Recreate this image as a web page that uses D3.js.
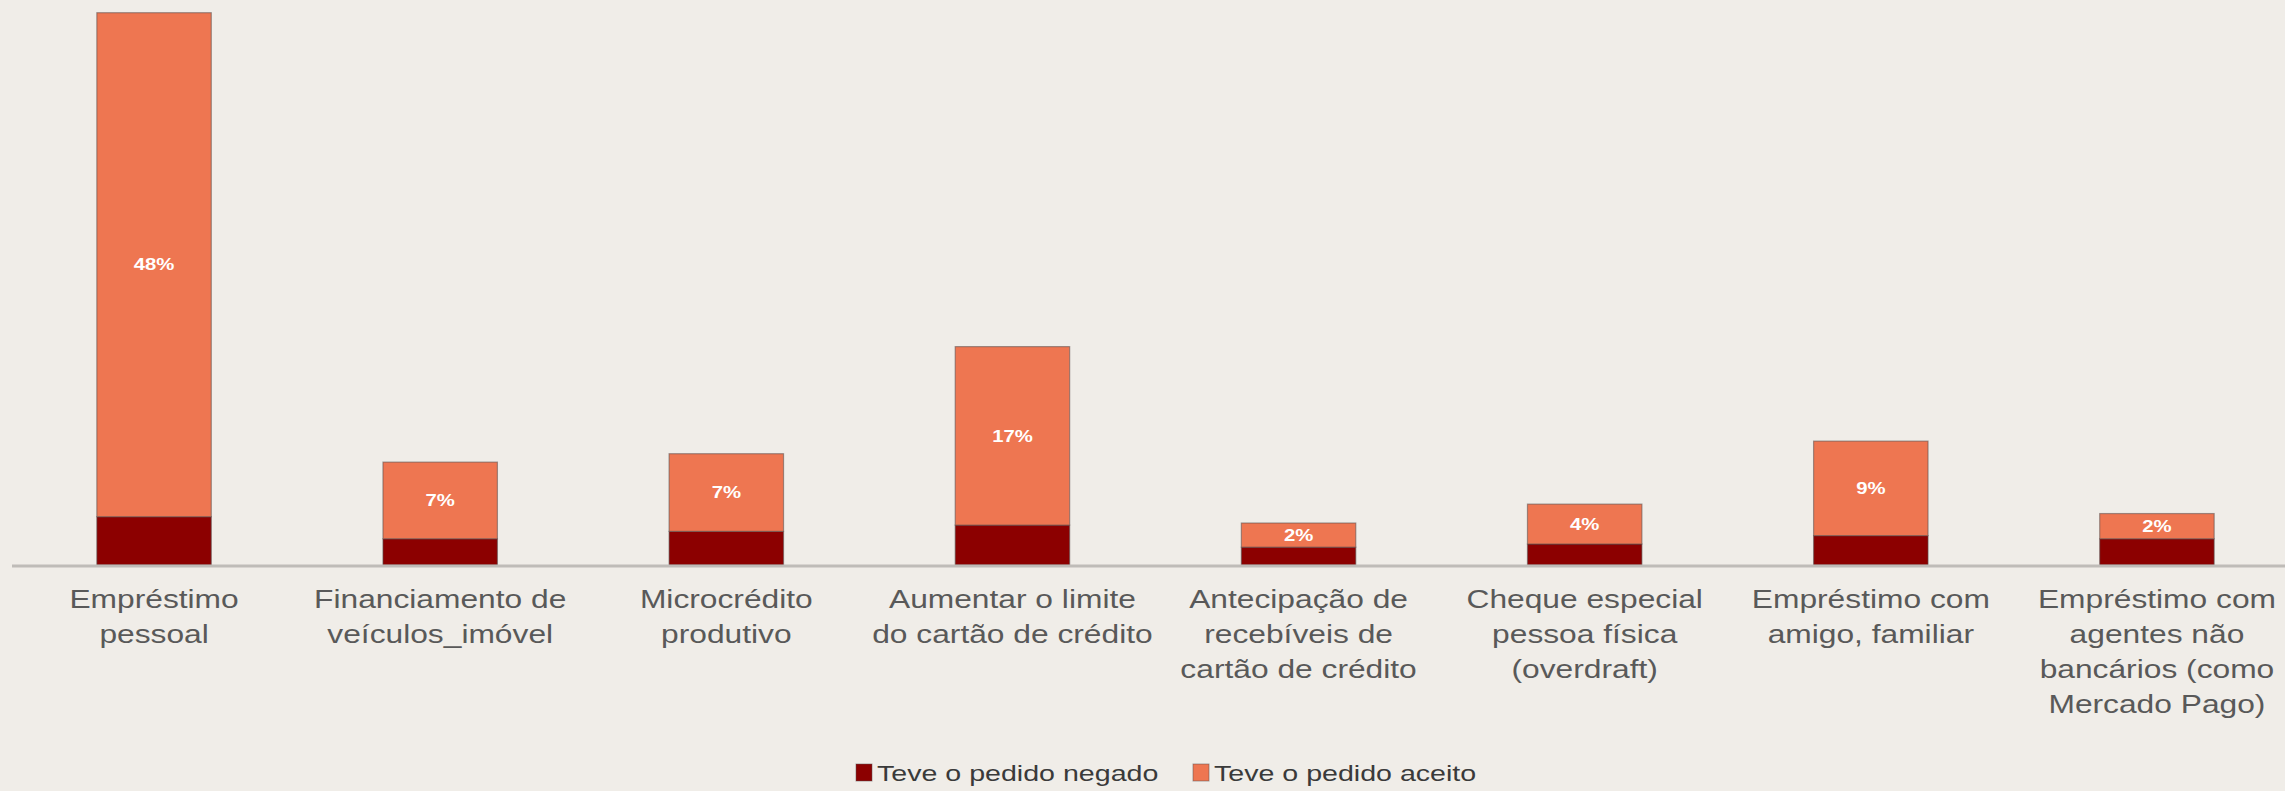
<!DOCTYPE html>
<html>
<head>
<meta charset="utf-8">
<script src="https://cdn.jsdelivr.net/npm/d3@7"></script>
<style>
  html, body { margin: 0; padding: 0; background: #f0ede8; }
  svg { display: block; }
</style>
</head>
<body>
<div id="chart"></div>
<script>
"use strict";

// categories (line breaks as in the original labels)
const categories = [
    "Empréstimo\npessoal",
    "Financiamento de\nveículos_imóvel",
    "Microcrédito\nprodutivo",
    "Aumentar o limite\ndo cartão de crédito",
    "Antecipação de\nrecebíveis de\ncartão de crédito",
    "Cheque especial\npessoa física\n(overdraft)",
    "Empréstimo com\namigo, familiar",
    "Empréstimo com\nagentes não\nbancários (como\nMercado Pago)"
];
// % of respondents
const negado = [4.6, 2.5, 3.2, 3.8, 1.7, 2.0, 2.8, 2.5];
const aceito = [48, 7.3, 7.4, 17, 2.3, 3.8, 9.0, 2.4];
const seriesNames = ["Teve o pedido negado", "Teve o pedido aceito"];
const seriesColors = ["#8c0000", "#ee7651"];

const msm = {
    width: 2285,
    height: 791,
    baseline: 565,
    left: 11,
    right: 2300,
    stretch: 1.27   // the source picture is widened horizontally
};

const svg = d3.select("#chart")
    .append("svg")
    .attr("width", msm.width)
    .attr("height", msm.height);

svg.append("rect")
    .attr("width", msm.width)
    .attr("height", msm.height)
    .attr("fill", "#f0ede8");

// build the table d3.stack needs
const rows = categories.map((c, i) => ({ cat: c, negado: negado[i], aceito: aceito[i] }));
const stacked = d3.stack().keys(["negado", "aceito"])(rows);

const xScale = d3.scaleBand()
    .domain(categories)
    .range([msm.left, msm.right])
    .paddingInner(0.6)
    .paddingOuter(0.3);

const yScale = d3.scaleLinear()
    .domain([0, 50])
    .range([msm.baseline, 40]);

// bars
const layers = svg.selectAll(".layer")
    .data(stacked)
    .enter()
    .append("g")
    .attr("class", "layer")
    .attr("fill", (d, i) => seriesColors[i]);

layers.selectAll("rect")
    .data(d => d)
    .enter()
    .append("rect")
    .attr("x", d => xScale(d.data.cat))
    .attr("y", d => yScale(d[1]))
    .attr("width", xScale.bandwidth())
    .attr("height", d => yScale(d[0]) - yScale(d[1]))
    .attr("stroke", "rgba(90,80,80,0.55)")
    .attr("stroke-width", 1.2);

// value labels on the "aceito" segment
svg.append("g").selectAll("text")
    .data(stacked[1])
    .enter()
    .append("text")
    .attr("transform", d => "translate(" + (xScale(d.data.cat) + xScale.bandwidth() / 2) + ","
        + ((yScale(d[0]) + yScale(d[1])) / 2) + ") scale(" + msm.stretch + ",1)")
    .attr("text-anchor", "middle")
    .attr("dominant-baseline", "central")
    .style("font-family", "'Liberation Sans', Arial, sans-serif")
    .style("font-weight", "bold")
    .style("font-size", "16px")
    .style("fill", "#ffffff")
    .text(d => Math.round(d.data.aceito) + "%");

// x axis line
svg.append("line")
    .attr("x1", 12)
    .attr("x2", msm.width)
    .attr("y1", msm.baseline + 1)
    .attr("y2", msm.baseline + 1)
    .attr("stroke", "#bfbcb8")
    .attr("stroke-width", 3);

// category labels
const catG = svg.append("g").selectAll("g")
    .data(categories)
    .enter()
    .append("g")
    .attr("transform", d => "translate(" + (xScale(d) + xScale.bandwidth() / 2) + ",608) scale(" + msm.stretch + ",1)");

catG.selectAll("text")
    .data(d => d.split("\n"))
    .enter()
    .append("text")
    .attr("x", 0)
    .attr("y", (d, i) => i * 35)
    .attr("text-anchor", "middle")
    .style("font-family", "'Liberation Sans', Arial, sans-serif")
    .style("font-size", "25px")
    .style("fill", "#595959")
    .text(d => d);

// legend
const legendX = [856, 1193];
const legend = svg.append("g").selectAll("g")
    .data(seriesNames)
    .enter()
    .append("g")
    .attr("transform", (d, i) => "translate(" + legendX[i] + ",764)");

legend.append("rect")
    .attr("width", 16)
    .attr("height", 17)
    .attr("fill", (d, i) => seriesColors[i])
    .attr("stroke", "rgba(90,80,80,0.5)");

legend.append("text")
    .attr("transform", "translate(21,17) scale(1.3,1)")
    .style("font-family", "'Liberation Sans', Arial, sans-serif")
    .style("font-size", "22px")
    .style("fill", "#3a3a3a")
    .text(d => d);
</script>
</body>
</html>
